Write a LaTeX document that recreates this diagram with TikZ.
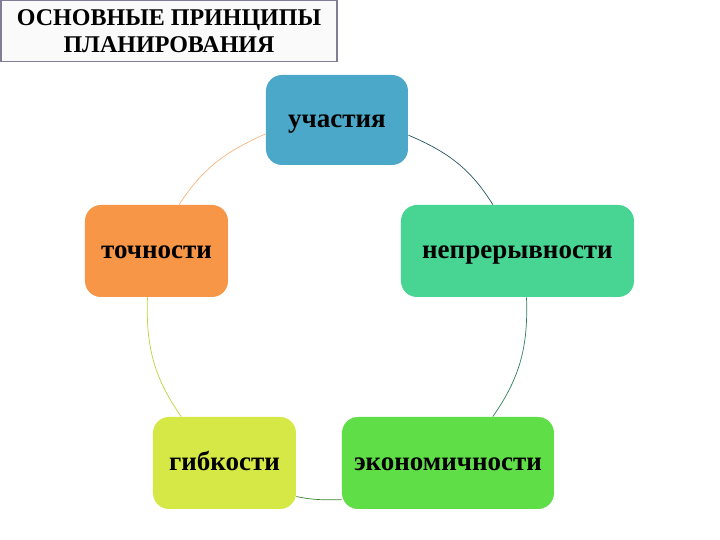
\documentclass[tikz,border=0pt]{standalone}
\usepackage{fontspec}
\setmainfont{Liberation Serif}
\usetikzlibrary{positioning}

\definecolor{uchblue}{RGB}{75,168,200}
\definecolor{tochorange}{RGB}{247,150,70}
\definecolor{neprteal}{RGB}{72,212,146}
\definecolor{gibkyellow}{RGB}{214,232,70}
\definecolor{ekongreen}{RGB}{96,222,72}
\definecolor{titleframe}{RGB}{128,126,150}

\begin{document}
\begin{tikzpicture}[x=0.5pt,y=-0.5pt]
\tikzstyle{principle}=[rectangle, rounded corners=8pt, minimum height=46pt, text centered, text height=9pt, text depth=1pt, font=\bfseries\fontsize{13.5}{15}\selectfont]
\tikzstyle{link}=[line width=0.35pt]

\useasboundingbox (0,0) rectangle (720,540);

% title
\node (title) [draw=titleframe, line width=0.8pt, fill=black!2, minimum width=168pt, minimum height=30.5pt, align=center, font=\bfseries\fontsize{12}{13.5}\selectfont] at (169,31) {ОСНОВНЫЕ ПРИНЦИПЫ\\ПЛАНИРОВАНИЯ};

% principles
\node (uch) [principle, fill=uchblue, minimum width=71pt, minimum height=45pt] at (337,120) {участия};
\node (toch) [principle, fill=tochorange, minimum width=71.5pt] at (156.5,251) {точности};
\node (nepr) [principle, fill=neprteal, minimum width=116.5pt] at (517.5,251) {непрерывности};
\node (gibk) [principle, fill=gibkyellow, minimum width=71.5pt] at (224.5,463) {гибкости};
\node (ekon) [principle, fill=ekongreen, minimum width=106pt] at (448,463) {экономичности};

% circle links
\draw [link, draw=tochorange!70] (uch.191) to[out=204, in=57] (toch.64);
\draw [link, draw=gibkyellow!90!black] (toch.259) to[out=268, in=125] (gibk.133);
\draw [link, draw=ekongreen!60!black] (gibk.335) to[out=348, in=181] (ekon.199);
\draw [link, draw=neprteal!60!black] (ekon.46) to[out=55, in=-88] (nepr.281);
\draw [link, draw=uchblue!50!black] (nepr.118) to[out=122, in=-23] (uch.348);

\end{tikzpicture}
\end{document}
